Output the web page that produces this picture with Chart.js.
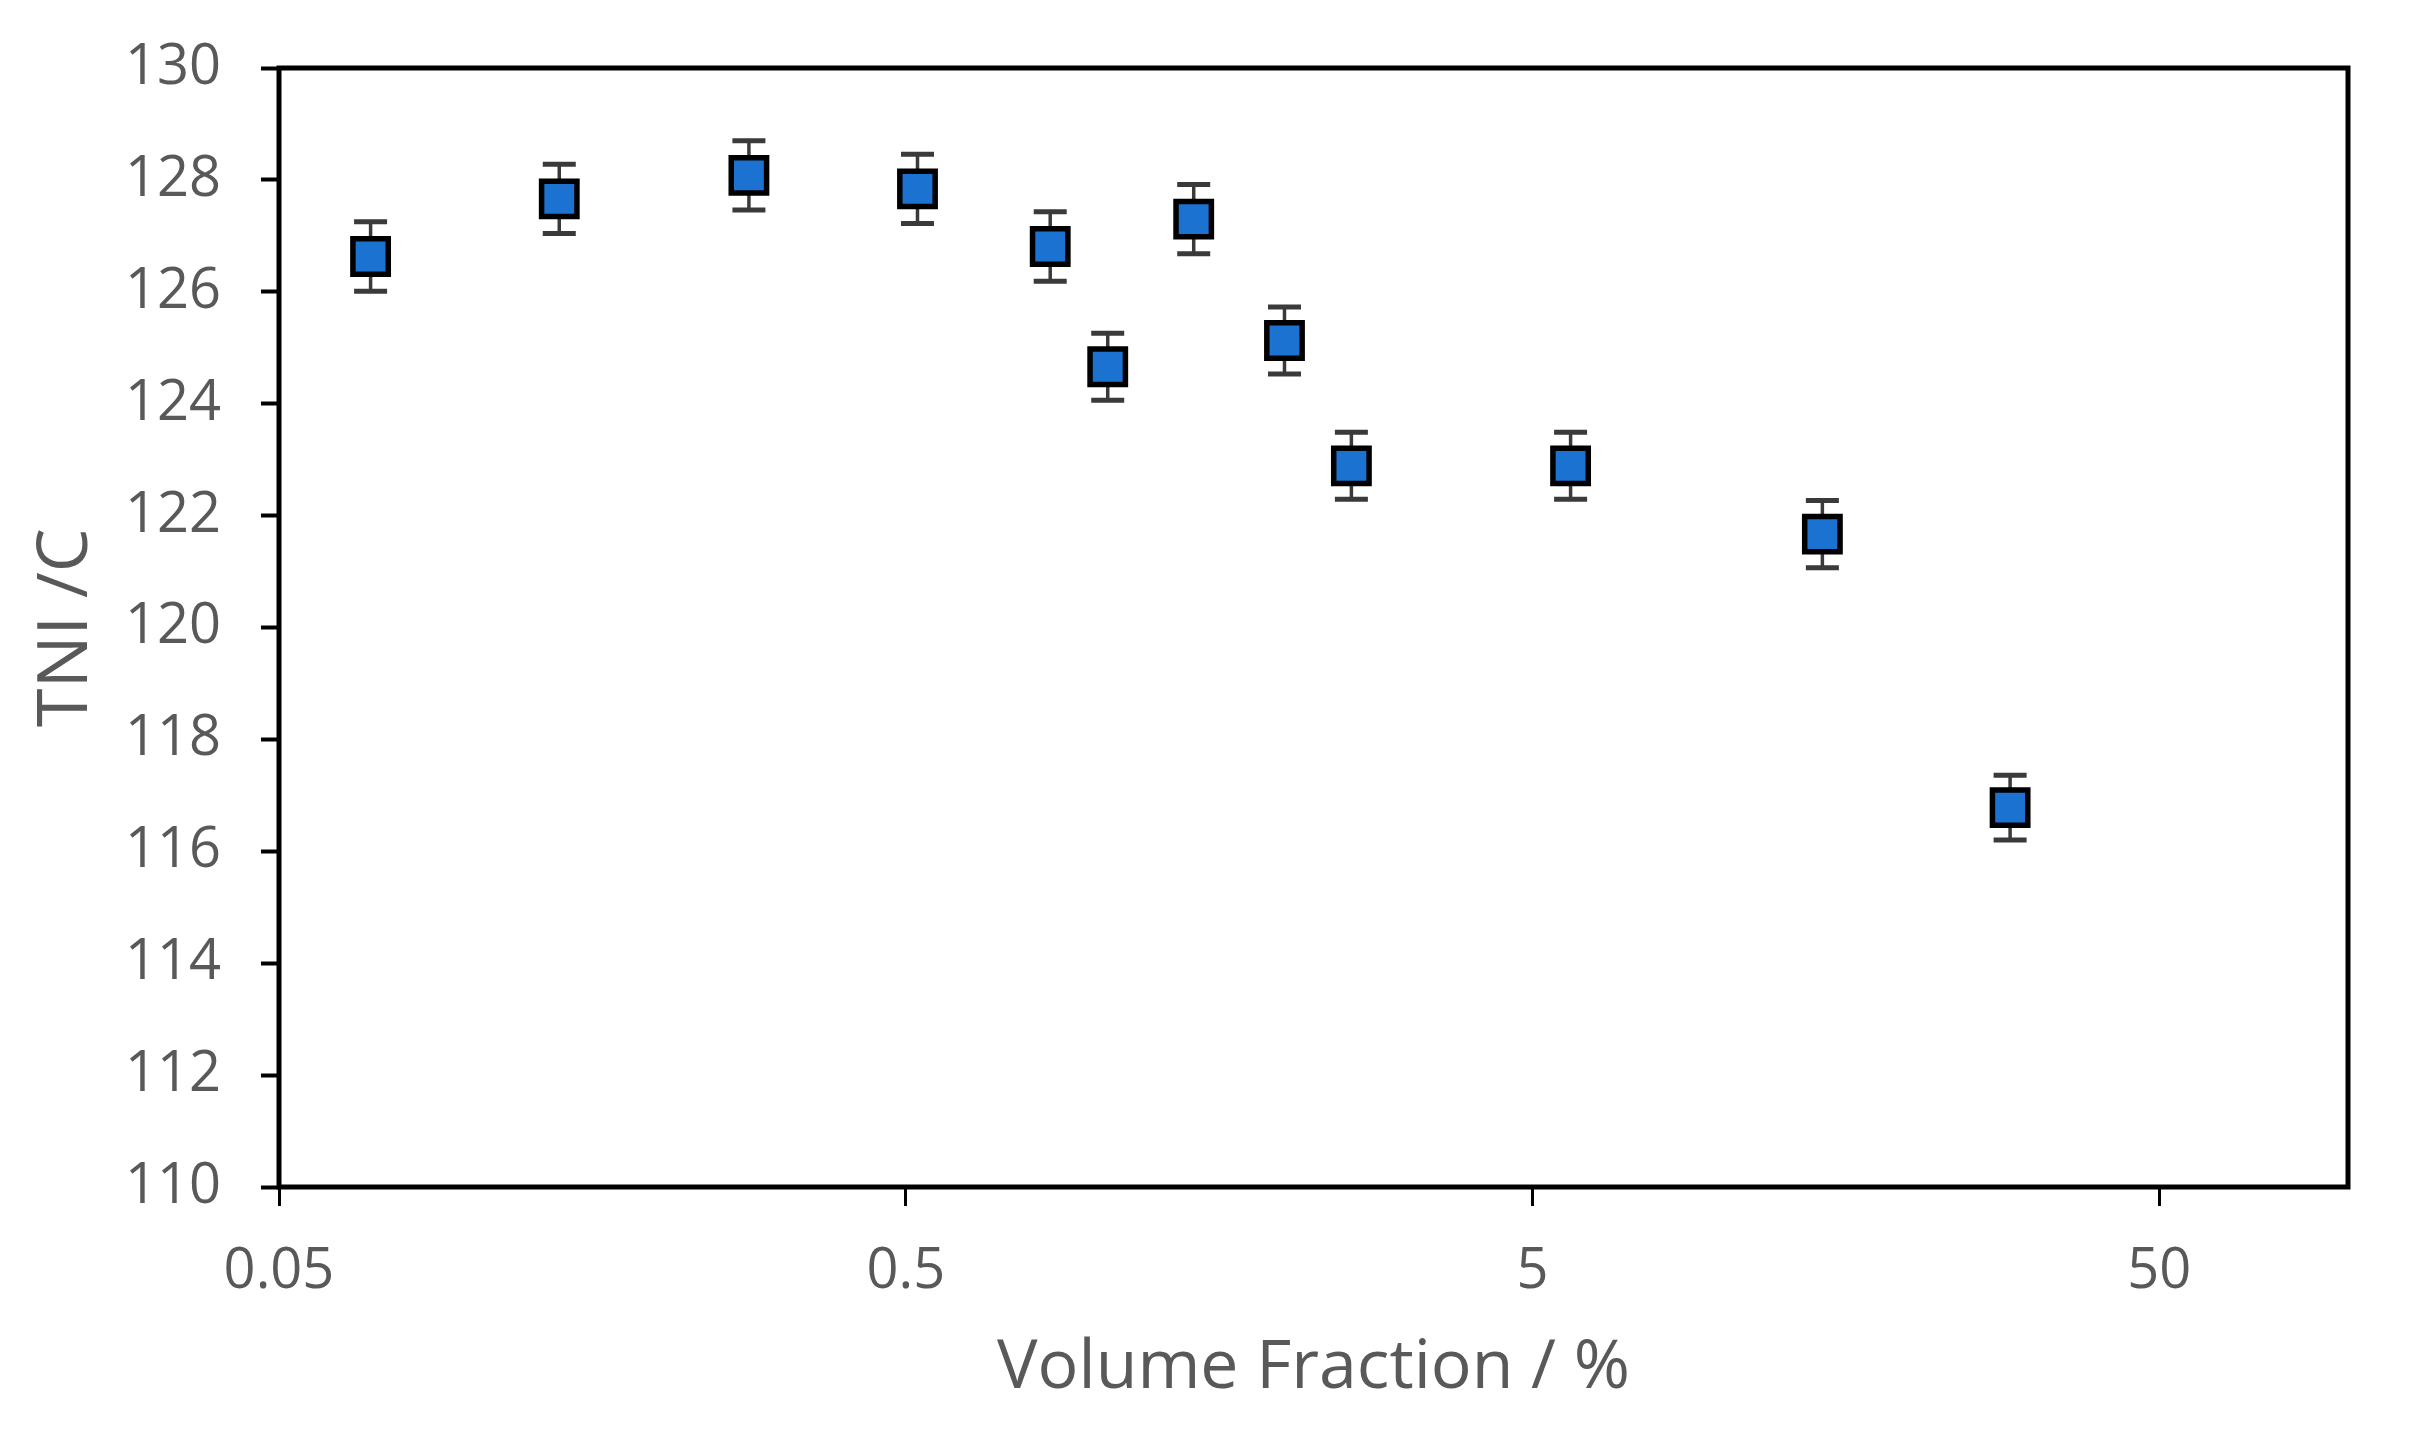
<!DOCTYPE html>
<html>
<head>
<meta charset="utf-8">
<script src="https://cdn.jsdelivr.net/npm/chart.js@4/dist/chart.umd.min.js"></script>
<style>
  html, body { margin: 0; padding: 0; background: #ffffff; }
  #wrap { width: 2418px; height: 1437px; }
</style>
</head>
<body>
<div id="wrap"><canvas id="c" width="2418" height="1437"></canvas></div>
<script>
// ---- data ----
const volumeFraction = [0.070, 0.140, 0.281, 0.522, 0.85, 1.05, 1.44, 2.01, 2.57, 5.75, 14.5, 28.9];
const tni            = [126.63, 127.66, 128.08, 127.84, 126.81, 124.66, 127.30, 125.13, 122.89, 122.89, 121.67, 116.78];
const tniErr         = [0.62, 0.62, 0.62, 0.62, 0.62, 0.6, 0.62, 0.6, 0.6, 0.6, 0.6, 0.58];
const xTickValues    = [0.05, 0.5, 5, 50];
const xTickLabels    = ['0.05', '0.5', '5', '50'];
const yMin = 110, yMax = 130, yStep = 2;
const xMin = 0.05, xMax = 100;
const xTitle = 'Volume Fraction / %';
const yTitle = 'TNI /C';

const points = volumeFraction.map((x, i) => ({ x: x, y: tni[i] }));

const errorBars = {
  id: 'errorBars',
  beforeDatasetsDraw(chart) {
    const ctx = chart.ctx;
    const xs = chart.scales.x, ys = chart.scales.y;
    ctx.save();
    ctx.strokeStyle = '#3a3a3a';
    volumeFraction.forEach((v, i) => {
      const px = xs.getPixelForValue(v);
      const top = ys.getPixelForValue(tni[i] + tniErr[i]);
      const bot = ys.getPixelForValue(tni[i] - tniErr[i]);
      ctx.lineWidth = 3.5;
      ctx.beginPath();
      ctx.moveTo(px, top); ctx.lineTo(px, bot);
      ctx.stroke();
      ctx.lineWidth = 5;
      ctx.beginPath();
      ctx.moveTo(px - 16.5, top); ctx.lineTo(px + 16.5, top);
      ctx.moveTo(px - 16.5, bot); ctx.lineTo(px + 16.5, bot);
      ctx.stroke();
    });
    ctx.restore();
  }
};

const frame = {
  id: 'frame',
  afterDraw(chart) {
    const a = chart.chartArea;
    const ctx = chart.ctx;
    ctx.save();
    ctx.strokeStyle = '#000000';
    ctx.lineWidth = 5;
    ctx.strokeRect(a.left, a.top, a.right - a.left, a.bottom - a.top);
    ctx.restore();
  }
};

new Chart(document.getElementById('c'), {
  type: 'scatter',
  data: {
    datasets: [{
      data: points,
      pointStyle: 'rect',
      pointRadius: 25,
      pointHoverRadius: 25,
      backgroundColor: '#1c72d1',
      borderColor: '#000000',
      borderWidth: 5.5,
      showLine: false
    }]
  },
  options: {
    responsive: false,
    animation: false,
    devicePixelRatio: 1,
    layout: { padding: { top: 68, right: 70, left: 0, bottom: 0 } },
    plugins: { legend: { display: false }, tooltip: { enabled: false } },
    scales: {
      x: {
        type: 'logarithmic',
        min: xMin, max: xMax,
        afterBuildTicks(axis) { axis.ticks = xTickValues.map(v => ({ value: v })); },
        afterFit(axis) { axis.height = 250; },
        border: { display: false },
        grid: { display: true, drawOnChartArea: false, drawTicks: true, tickLength: 19, tickWidth: 3, color: '#000000' },
        ticks: {
          autoSkip: false, maxRotation: 0, padding: 32,
          color: '#595959',
          font: { family: '"Open Sans", sans-serif', size: 56 },
          callback(value) { const i = xTickValues.indexOf(value); return i >= 0 ? xTickLabels[i] : ''; }
        },
        title: {
          display: true, text: xTitle, color: '#595959',
          font: { family: '"Open Sans", sans-serif', size: 68, lineHeight: 1 },
          padding: { top: 0, bottom: 34 }
        }
      },
      y: {
        type: 'linear',
        min: yMin, max: yMax,
        afterFit(axis) { axis.width = 279; },
        border: { display: false },
        grid: { display: true, drawOnChartArea: false, drawTicks: true, tickLength: 18, tickWidth: 4, color: '#000000' },
        ticks: {
          stepSize: yStep, padding: 40,
          color: '#595959',
          font: { family: '"Open Sans", sans-serif', size: 56, lineHeight: 0.95 }
        },
        title: {
          display: true, text: yTitle, color: '#595959',
          font: { family: '"Open Sans", sans-serif', size: 70, lineHeight: 1 },
          padding: { top: 32, bottom: 0 }
        }
      }
    }
  },
  plugins: [errorBars, frame]
});
</script>
</body>
</html>
